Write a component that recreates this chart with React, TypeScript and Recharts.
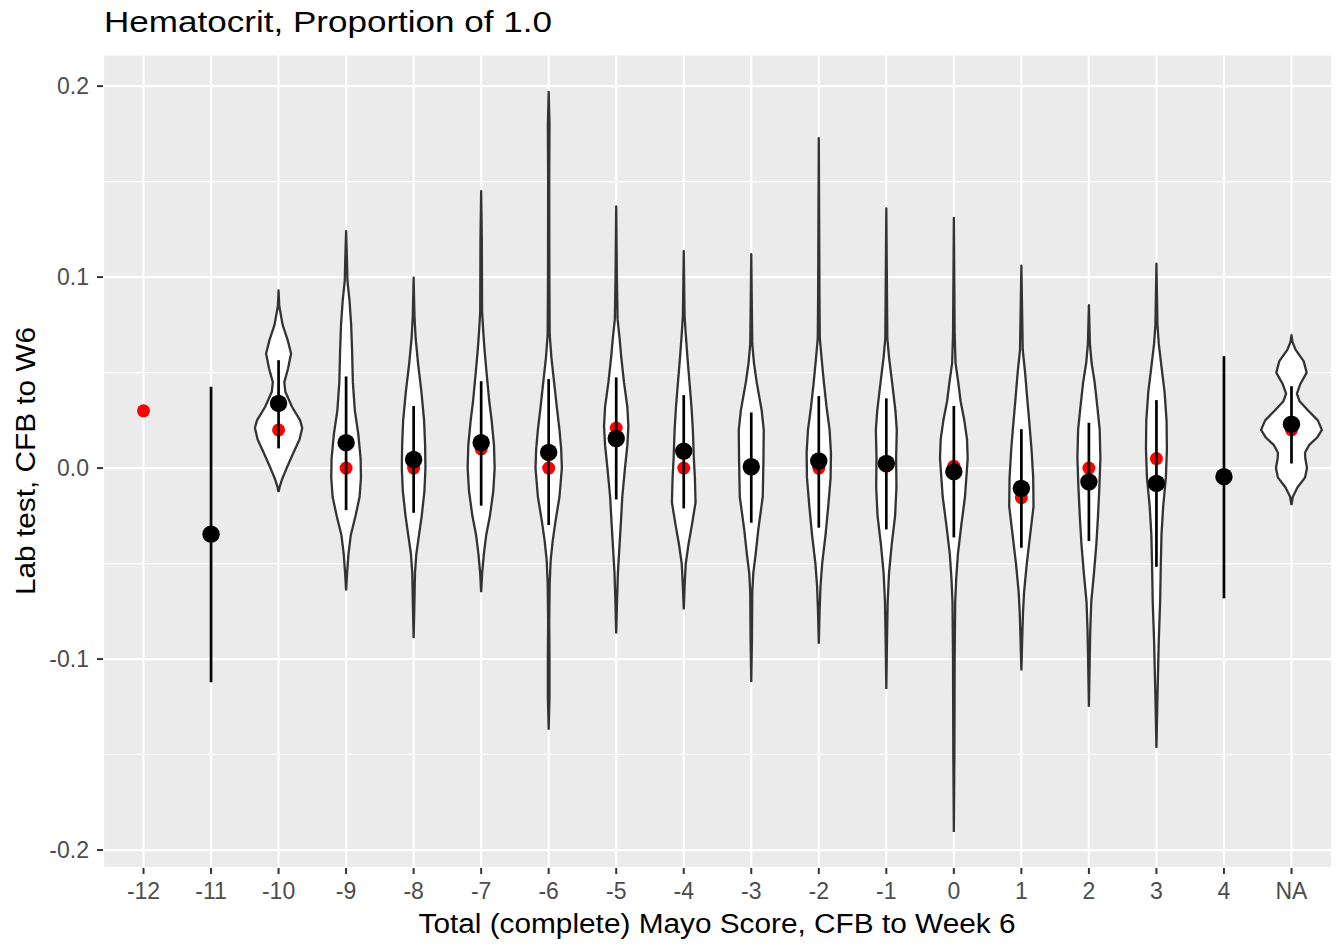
import React from "react";
import { ComposedChart, Scatter, XAxis, YAxis, CartesianGrid } from "recharts";

const categories = ["-12", "-11", "-10", "-9", "-8", "-7", "-6", "-5", "-4", "-3", "-2", "-1", "0", "1", "2", "3", "4", "NA"];

// red points (median)
const medianValues = [0.03, -0.035, 0.02, 0.0, 0.0, 0.01, 0.0, 0.021, 0.0, 0.0, 0.0, 0.001, 0.001, -0.0155, 0.0, 0.005, -0.0045, 0.02];
// black points (mean), null where not drawn
const meanValues = [null, -0.0346, 0.0339, 0.0133, 0.0045, 0.0133, 0.0082, 0.0155, 0.0089, 0.0007, 0.0037, 0.0024, -0.0019, -0.0106, -0.0072, -0.008, -0.0045, 0.023];
const barLow = [null, -0.1122, 0.0103, -0.022, -0.0234, -0.0197, -0.0298, -0.0164, -0.0211, -0.0286, -0.0312, -0.0321, -0.0363, -0.0417, -0.0382, -0.0517, -0.0682, 0.0024];
const barHigh = [null, 0.0426, 0.0565, 0.048, 0.0325, 0.0455, 0.0466, 0.0475, 0.0382, 0.0291, 0.0377, 0.0365, 0.0325, 0.0204, 0.0237, 0.0356, 0.0586, 0.0429];

const yTicks = [-0.2, -0.15, -0.1, -0.05, 0, 0.05, 0.1, 0.15, 0.2];

// violin profiles: [value, half width in category units], bottom to top
const violinM10 = [[-0.0125, 0], [-0.01, 0.015], [-0.006, 0.05], [0.0, 0.12], [0.008, 0.22], [0.015, 0.31], [0.021, 0.35], [0.025, 0.32], [0.032, 0.2], [0.04, 0.1], [0.045, 0.085], [0.052, 0.14], [0.06, 0.185], [0.067, 0.135], [0.075, 0.06], [0.085, 0.01], [0.093, 0]];
const violinM9 = [[-0.064, 0], [-0.055, 0.015], [-0.045, 0.035], [-0.035, 0.07], [-0.025, 0.14], [-0.015, 0.2], [-0.005, 0.22], [0.005, 0.215], [0.018, 0.18], [0.03, 0.13], [0.045, 0.1], [0.06, 0.09], [0.075, 0.075], [0.088, 0.05], [0.098, 0.02], [0.11, 0.012], [0.124, 0]];
const violinM8 = [[-0.089, 0], [-0.07, 0.012], [-0.055, 0.02], [-0.045, 0.04], [-0.035, 0.08], [-0.025, 0.12], [-0.012, 0.16], [0.0, 0.175], [0.012, 0.17], [0.025, 0.155], [0.04, 0.115], [0.055, 0.065], [0.068, 0.03], [0.08, 0.012], [0.0997, 0]];
const violinM7 = [[-0.065, 0], [-0.055, 0.015], [-0.045, 0.04], [-0.035, 0.075], [-0.025, 0.13], [-0.012, 0.18], [0.0, 0.2], [0.012, 0.19], [0.025, 0.155], [0.035, 0.12], [0.05, 0.08], [0.062, 0.05], [0.072, 0.03], [0.082, 0.014], [0.12, 0.01], [0.145, 0]];
const violinM6 = [[-0.137, 0], [-0.12, 0.012], [-0.1, 0.012], [-0.08, 0.008], [-0.06, 0.015], [-0.048, 0.03], [-0.038, 0.06], [-0.028, 0.1], [-0.015, 0.16], [0.0, 0.195], [0.01, 0.185], [0.02, 0.16], [0.032, 0.12], [0.045, 0.08], [0.058, 0.04], [0.07, 0.015], [0.1, 0.01], [0.15, 0.008], [0.18, 0.012], [0.197, 0]];
const violinM5 = [[-0.0866, 0], [-0.07, 0.012], [-0.055, 0.025], [-0.04, 0.05], [-0.028, 0.07], [-0.015, 0.09], [0.0, 0.13], [0.012, 0.165], [0.022, 0.18], [0.032, 0.165], [0.045, 0.115], [0.058, 0.075], [0.068, 0.05], [0.078, 0.02], [0.1, 0.01], [0.137, 0]];
const violinM4 = [[-0.074, 0], [-0.06, 0.015], [-0.05, 0.03], [-0.04, 0.07], [-0.03, 0.12], [-0.018, 0.175], [-0.005, 0.165], [0.005, 0.15], [0.02, 0.135], [0.032, 0.115], [0.045, 0.085], [0.058, 0.055], [0.07, 0.03], [0.08, 0.012], [0.1136, 0]];
const violinM3 = [[-0.112, 0], [-0.09, 0.01], [-0.065, 0.015], [-0.055, 0.03], [-0.045, 0.065], [-0.032, 0.105], [-0.015, 0.17], [0.003, 0.18], [0.02, 0.185], [0.03, 0.155], [0.045, 0.08], [0.055, 0.04], [0.065, 0.015], [0.08, 0.01], [0.112, 0]];
const violinM2 = [[-0.092, 0], [-0.075, 0.012], [-0.062, 0.025], [-0.05, 0.05], [-0.035, 0.1], [-0.02, 0.14], [-0.005, 0.175], [0.008, 0.18], [0.02, 0.16], [0.032, 0.115], [0.045, 0.075], [0.058, 0.04], [0.068, 0.015], [0.09, 0.01], [0.1728, 0]];
const violinM1 = [[-0.1157, 0], [-0.09, 0.01], [-0.07, 0.02], [-0.055, 0.04], [-0.04, 0.08], [-0.025, 0.13], [-0.01, 0.15], [0.005, 0.145], [0.02, 0.155], [0.03, 0.135], [0.045, 0.085], [0.058, 0.04], [0.068, 0.015], [0.09, 0.01], [0.136, 0]];
const violin0 = [[-0.1906, 0], [-0.15, 0.008], [-0.1, 0.012], [-0.07, 0.02], [-0.058, 0.035], [-0.045, 0.06], [-0.03, 0.11], [-0.015, 0.165], [0.005, 0.205], [0.015, 0.195], [0.025, 0.155], [0.035, 0.1], [0.045, 0.065], [0.055, 0.025], [0.07, 0.012], [0.131, 0]];
const violin1 = [[-0.106, 0], [-0.09, 0.012], [-0.075, 0.025], [-0.065, 0.04], [-0.05, 0.08], [-0.035, 0.13], [-0.02, 0.18], [-0.005, 0.175], [0.01, 0.15], [0.025, 0.115], [0.035, 0.09], [0.05, 0.055], [0.062, 0.02], [0.08, 0.012], [0.106, 0]];
const violin2 = [[-0.125, 0], [-0.1, 0.012], [-0.085, 0.02], [-0.07, 0.035], [-0.055, 0.075], [-0.04, 0.11], [-0.025, 0.135], [-0.01, 0.155], [0.005, 0.17], [0.02, 0.16], [0.032, 0.125], [0.045, 0.085], [0.055, 0.04], [0.065, 0.015], [0.0853, 0]];
const violin3 = [[-0.1466, 0], [-0.125, 0.012], [-0.105, 0.025], [-0.09, 0.035], [-0.07, 0.055], [-0.05, 0.065], [-0.035, 0.075], [-0.02, 0.1], [-0.005, 0.14], [0.01, 0.155], [0.025, 0.15], [0.04, 0.12], [0.053, 0.075], [0.065, 0.035], [0.075, 0.015], [0.107, 0]];
const violinNA = [[-0.0194, 0], [-0.015, 0.02], [-0.01, 0.09], [-0.005, 0.2], [0.0, 0.23], [0.005, 0.205], [0.008, 0.2], [0.012, 0.26], [0.016, 0.38], [0.02, 0.45], [0.025, 0.39], [0.03, 0.25], [0.035, 0.12], [0.039, 0.08], [0.044, 0.13], [0.05, 0.225], [0.056, 0.18], [0.062, 0.06], [0.066, 0.015], [0.0696, 0]];

const violins: [number, number[][]][] = [
  [2, violinM10], [3, violinM9], [4, violinM8], [5, violinM7], [6, violinM6], [7, violinM5],
  [8, violinM4], [9, violinM3], [10, violinM2], [11, violinM1], [12, violin0], [13, violin1],
  [14, violin2], [15, violin3], [17, violinNA],
];

const FONT = "'Liberation Sans', Arial, sans-serif";

function outline(idx: number, profile: number[][]) {
  const left = profile.map(([y, w]) => ({ x: idx - w, y }));
  const right = [...profile].reverse().map(([y, w]) => ({ x: idx + w, y }));
  return [...left, ...right];
}

const medianData = medianValues.map((y, i) => ({ x: i, y }));
const meanData = meanValues.map((y, i) => ({ x: i, y })).filter((d) => d.y !== null);
const bars = barLow
  .map((lo, i) => ({ i, lo, hi: barHigh[i] }))
  .filter((b) => b.lo !== null);

const noShape = () => <g />;

function YTick(props: any) {
  const { x, y, payload } = props;
  const v = payload.value;
  if (Math.abs(v * 10 - Math.round(v * 10)) > 1e-6) return <g />;
  return (
    <g>
      <line x1={x + 8} x2={x + 14} y1={y} y2={y} stroke="#333333" strokeWidth={2} />
      <text x={x} y={y} dy="0.36em" textAnchor="end" fill="#4D4D4D" fontSize={23} fontFamily={FONT}>
        {v.toFixed(1)}
      </text>
    </g>
  );
}

function gridLine(p: any) {
  const major = p.index % 2 === 0;
  return (
    <line
      key={`h${p.index}`}
      x1={p.x1}
      x2={p.x2}
      y1={p.y1}
      y2={p.y2}
      stroke="#FFFFFF"
      strokeWidth={major ? 2.2 : 1.1}
    />
  );
}

export default function App() {
  return (
    <div style={{ position: "absolute", left: 0, top: 0, width: 1338, height: 946, background: "#FFFFFF" }}>
      <ComposedChart width={1338} height={946} margin={{ top: 55, right: 6, bottom: 0, left: 0 }}>
        <CartesianGrid fill="#EBEBEB" fillOpacity={1} stroke="#FFFFFF" strokeWidth={2.2} horizontal={gridLine} />
        <XAxis
          type="number"
          dataKey="x"
          domain={[-0.6, 17.6]}
          allowDataOverflow
          ticks={categories.map((_, i) => i)}
          interval={0}
          tickFormatter={(i: number) => categories[i]}
          axisLine={false}
          tickLine={{ stroke: "#333333", strokeWidth: 2 }}
          tickSize={6}
          tickMargin={9}
          height={78}
          tick={{ fill: "#4D4D4D", fontSize: 23, fontFamily: FONT }}
        />
        <YAxis
          type="number"
          dataKey="y"
          domain={[-0.2094, 0.2163]}
          allowDataOverflow
          ticks={yTicks}
          interval={0}
          axisLine={false}
          tickLine={false}
          tickSize={6}
          tickMargin={8}
          width={103}
          tick={YTick}
        />
        {violins.map(([idx, profile]) => (
          <Scatter
            key={`v${idx}`}
            data={outline(idx, profile)}
            fill="#FFFFFF"
            line={{ stroke: "#333333", strokeWidth: 2.3, fill: "#FFFFFF", strokeLinejoin: "round" }}
            shape={noShape}
            isAnimationActive={false}
          />
        ))}
        <Scatter
          data={medianData}
          fill="#FF0000"
          shape={(p: any) => <circle cx={p.cx} cy={p.cy} r={6.5} fill="#FF0000" />}
          isAnimationActive={false}
        />
        {bars.map((b) => (
          <Scatter
            key={`b${b.i}`}
            data={[{ x: b.i, y: b.lo }, { x: b.i, y: b.hi }]}
            fill="#000000"
            line={{ stroke: "#000000", strokeWidth: 2.7 }}
            shape={noShape}
            isAnimationActive={false}
          />
        ))}
        <Scatter
          data={meanData}
          fill="#000000"
          shape={(p: any) => <circle cx={p.cx} cy={p.cy} r={8.7} fill="#000000" />}
          isAnimationActive={false}
        />
      </ComposedChart>
      <svg width={1338} height={946} style={{ position: "absolute", left: 0, top: 0, pointerEvents: "none" }}>
        <text x={104} y={32} fontSize={29} fontFamily={FONT} fill="#000000" textLength={448} lengthAdjust="spacingAndGlyphs">
          Hematocrit, Proportion of 1.0
        </text>
        <text x={717} y={933} fontSize={27} fontFamily={FONT} fill="#000000" textAnchor="middle" textLength={597} lengthAdjust="spacingAndGlyphs">
          Total (complete) Mayo Score, CFB to Week 6
        </text>
        <text
          x={0}
          y={0}
          transform="translate(35 461) rotate(-90)"
          fontSize={27}
          fontFamily={FONT}
          fill="#000000"
          textAnchor="middle"
          textLength={268}
          lengthAdjust="spacingAndGlyphs"
        >
          Lab test, CFB to W6
        </text>
      </svg>
    </div>
  );
}
